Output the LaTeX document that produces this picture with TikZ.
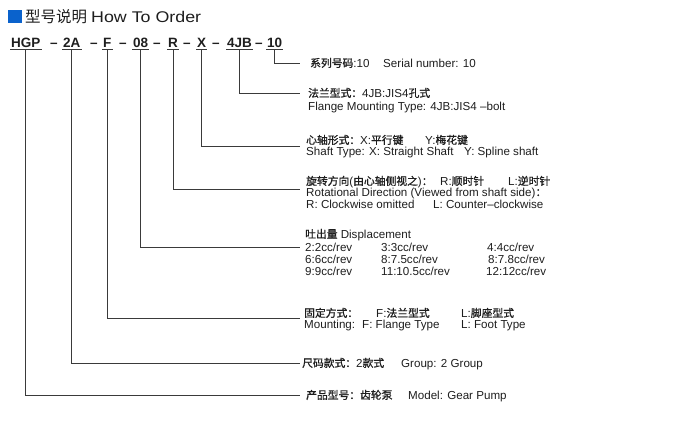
\documentclass[tikz,border=0pt]{standalone}
\usepackage{fontspec}
\setmainfont{Liberation Sans}
\newfontfamily\zh{Noto Sans CJK SC}[Scale=0.93,UprightFeatures={FakeBold=1}]
\newfontfamily\zhttl{Noto Sans CJK SC}
\newfontfamily\ttlfont{Liberation Sans}[FakeStretch=1.15]
\usepackage{xcolor}
\usepackage{tikz}
\usetikzlibrary{calc}

\definecolor{ordblue}{HTML}{0A62CC}
\definecolor{leadgray}{HTML}{3A3A3A}
\definecolor{inktext}{HTML}{1E1E1E}
\newcommand{\cn}[1]{{\zh #1}}
\newcommand{\col}[2]{\makebox[#1pt][l]{#2}}

\begin{document}
\begin{tikzpicture}[x=1pt,y=-1pt,
  code/.style={font=\fontsize{13.5}{15}\selectfont\bfseries,anchor=base west,
    inner xsep=1pt,inner ysep=2pt,text=inktext},
  sep/.style={font=\fontsize{13.5}{15}\selectfont\bfseries,anchor=base west,
    inner sep=0pt,text=inktext},
  lbl/.style={font=\fontsize{11.6}{12}\selectfont,anchor=base west,inner ysep=2pt,
    text height=9pt,text depth=2.5pt,text=inktext},
  lead/.style={draw=leadgray,line width=0.8pt}]
  \useasboundingbox (0,0) rectangle (700,420);
  % title
  \fill[ordblue] (8,10) rectangle (22,23);
  \node[anchor=west,inner sep=0pt,font=\fontsize{15.5}{18}\selectfont,text=inktext] (ttl) at (25,16.5)
    {{\zhttl 型号说明}\hspace{4pt}{\ttlfont How To Order}};
  % order code
  \node[code] (hgp) at (10,47.5) {HGP};
  \node[sep] (d1) at (50,47.5) {–};
  \node[code] (grp) at (62,47.5) {2A};
  \node[sep] (d2) at (90,47.5) {–};
  \node[code] (mnt) at (102,47.5) {F};
  \node[sep] (d3) at (119,47.5) {–};
  \node[code] (dsp) at (132,47.5) {08};
  \node[sep] (d4) at (153,47.5) {–};
  \node[code] (rot) at (167,47.5) {R};
  \node[sep] (d5) at (183,47.5) {–};
  \node[code] (sft) at (196,47.5) {X};
  \node[sep] (d6) at (212,47.5) {–};
  \node[code] (flg) at (226,47.5) {4JB};
  \node[sep] (d7) at (255,47.5) {–};
  \node[code] (ser) at (266,47.5) {10};
  \foreach \n in {hgp,grp,mnt,dsp,rot,sft,flg,ser}
    \draw[lead] (\n.south west) -- (\n.south east);
  % explanations
  \node[lbl,inner xsep=10pt] (lser) at (300,67) {\col{73}{\cn{系列号码}:10}Serial number: 10};
  \node[lbl,inner xsep=8pt] (lflg1) at (300,97) {\cn{法兰型式：}4JB:JIS4\cn{孔式}};
  \node[lbl,inner xsep=8pt] (lflg2) at (300,110) {Flange Mounting Type: 4JB:JIS4 –bolt};
  \node[lbl,inner xsep=6pt] (lsft1) at (300,144) {\col{119}{\cn{心轴形式：}X:\cn{平行键}}Y:\cn{梅花键}};
  \node[lbl,inner xsep=6pt] (lsft2) at (300,155) {\col{158}{Shaft Type: X: Straight Shaft}Y: Spline shaft};
  \node[lbl,inner xsep=6pt] (lrot1) at (300,185) {\col{134}{\cn{旋转方向}(\cn{由心轴侧视之})\cn{：}}\col{68}{R:\cn{顺时针}}L:\cn{逆时针}};
  \node[lbl,inner xsep=6pt] (lrot2) at (300,196) {Rotational Direction (Viewed from shaft side)\cn{：}};
  \node[lbl,inner xsep=6pt] (lrot3) at (300,208) {\col{127}{R: Clockwise omitted}L: Counter–clockwise};
  \node[lbl,inner xsep=5pt] (ldsp0) at (300,238) {\cn{吐出量} Displacement};
  \node[lbl,inner xsep=5pt] (ldsp1) at (300,251) {\col{76}{2:2cc/rev}\col{106}{3:3cc/rev}4:4cc/rev};
  \node[lbl,inner xsep=5pt] (ldsp2) at (300,263) {\col{76}{6:6cc/rev}\col{107}{8:7.5cc/rev}8:7.8cc/rev};
  \node[lbl,inner xsep=5pt] (ldsp3) at (300,275) {\col{76}{9:9cc/rev}\col{105}{11:10.5cc/rev}12:12cc/rev};
  \node[lbl,inner xsep=4pt] (lmnt1) at (300,317) {\col{72}{\cn{固定方式：}}\col{85}{F:\cn{法兰型式}}L:\cn{脚座型式}};
  \node[lbl,inner xsep=4pt] (lmnt2) at (300,328) {\col{58}{Mounting:}\col{99}{F: Flange Type}L: Foot Type};
  \node[lbl,inner xsep=2pt] (lgrp) at (300,367) {\col{99}{\cn{尺码款式：}2\cn{款式}}Group: 2 Group};
  \node[lbl,inner xsep=6pt] (lhgp) at (300,399) {\col{102}{\cn{产品型号：齿轮泵}}Model: Gear Pump};
  % leaders
  \draw[lead] (ser.south) |- (lser.west);
  \draw[lead] (flg.south) |- (lflg1.west);
  \draw[lead] (sft.south) |- ($(lsft1.west)!.5!(lsft2.west)$);
  \draw[lead] (rot.south) |- ($(lrot1.west)!.65!(lrot2.west)$);
  \draw[lead] (dsp.south) |- (ldsp1.west);
  \draw[lead] (mnt.south) |- ($(lmnt1.west)!.4!(lmnt2.west)$);
  \draw[lead] (grp.south) |- (lgrp.west);
  \draw[lead] (hgp.south) |- (lhgp.west);
\end{tikzpicture}
\end{document}
